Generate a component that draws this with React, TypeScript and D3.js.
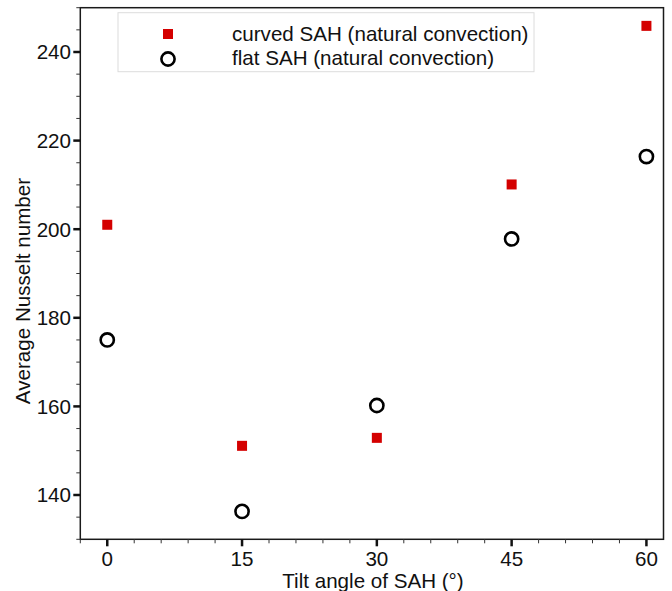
import React from "react";
import * as d3 from "d3";

const angles = [0, 15, 30, 45, 60];
const curvedSAH = [201, 151.1, 152.9, 210.1, 245.9];
const flatSAH = [175, 136.3, 160.2, 197.8, 216.4];
const xMajorTicks = [0, 15, 30, 45, 60];
const yMajorTicks = [140, 160, 180, 200, 220, 240];
const legendLabels = ["curved SAH (natural convection)", "flat SAH (natural convection)"];
const xTitle = "Tilt angle of SAH (°)";
const yTitle = "Average Nusselt number";

const FONT = "'Liberation Sans', Arial, Helvetica, sans-serif";
const RED = "#d40000";
const FS = 20.6;

export default function App() {
  const x = d3.scaleLinear().domain([-3, 61.9]).range([80.3, 663.5]);
  const y = d3.scaleLinear().domain([130, 250]).range([539.3, 7.7]);
  const xMinor = d3.range(-3, 61, 3).filter((v) => !xMajorTicks.includes(v));
  const yMinor = d3.range(130, 251, 5).filter((v) => !yMajorTicks.includes(v));
  const [x0, x1] = x.range();
  const [y0, y1] = y.range();

  return (
    <svg
      width={672}
      height={591}
      style={{ position: "absolute", left: 0, top: 0, display: "block", background: "#fff" }}
      fontFamily={FONT}
    >
      <rect x={0} y={0} width={672} height={591} fill="#fff" />
      {/* frame */}
      <rect x={x0} y={y1} width={x1 - x0} height={y0 - y1} fill="none" stroke="#1a1a1a" strokeWidth={1.5} />
      {/* x ticks */}
      {xMinor.map((v) => (
        <line key={"xm" + v} x1={x(v)} x2={x(v)} y1={y0} y2={y0 + 4} stroke="#333" strokeWidth={1} />
      ))}
      {xMajorTicks.map((v) => (
        <g key={"xM" + v}>
          <line x1={x(v)} x2={x(v)} y1={y0} y2={y0 + 7} stroke="#111" strokeWidth={2.5} />
          <text x={x(v)} y={565.5} textAnchor="middle" fontSize={FS} fill="#111">
            {v}
          </text>
        </g>
      ))}
      {/* y ticks */}
      {yMinor.map((v) => (
        <line key={"ym" + v} x1={x0 - 4} x2={x0} y1={y(v)} y2={y(v)} stroke="#333" strokeWidth={1} />
      ))}
      {yMajorTicks.map((v) => (
        <g key={"yM" + v}>
          <line x1={x0 - 7} x2={x0} y1={y(v)} y2={y(v)} stroke="#111" strokeWidth={2.5} />
          <text x={71} y={y(v) + 7.3} textAnchor="end" fontSize={FS} fill="#111">
            {v}
          </text>
        </g>
      ))}
      {/* axis titles */}
      <text x={373} y={587.5} textAnchor="middle" fontSize={FS} fill="#111">
        {xTitle}
      </text>
      <text
        transform={`translate(29.5,291) rotate(-90)`}
        textAnchor="middle"
        fontSize={FS}
        fill="#111"
      >
        {yTitle}
      </text>
      {/* data */}
      {angles.map((a, i) => (
        <rect key={"c" + a} x={x(a) - 5} y={y(curvedSAH[i]) - 5} width={10} height={10} fill={RED} />
      ))}
      {angles.map((a, i) => (
        <circle key={"f" + a} cx={x(a)} cy={y(flatSAH[i])} r={6.6} fill="none" stroke="#000" strokeWidth={2.6} />
      ))}
      {/* legend */}
      <rect x={118} y={12.7} width={416} height={59} fill="#fff" stroke="#dcdcdc" strokeWidth={1} />
      <rect x={163} y={29} width={10} height={10} fill={RED} />
      <circle cx={168} cy={59} r={6.6} fill="none" stroke="#000" strokeWidth={2.6} />
      <text x={232} y={41} fontSize={FS} fill="#111">
        {legendLabels[0]}
      </text>
      <text x={232} y={64.5} fontSize={FS} fill="#111">
        {legendLabels[1]}
      </text>
    </svg>
  );
}
